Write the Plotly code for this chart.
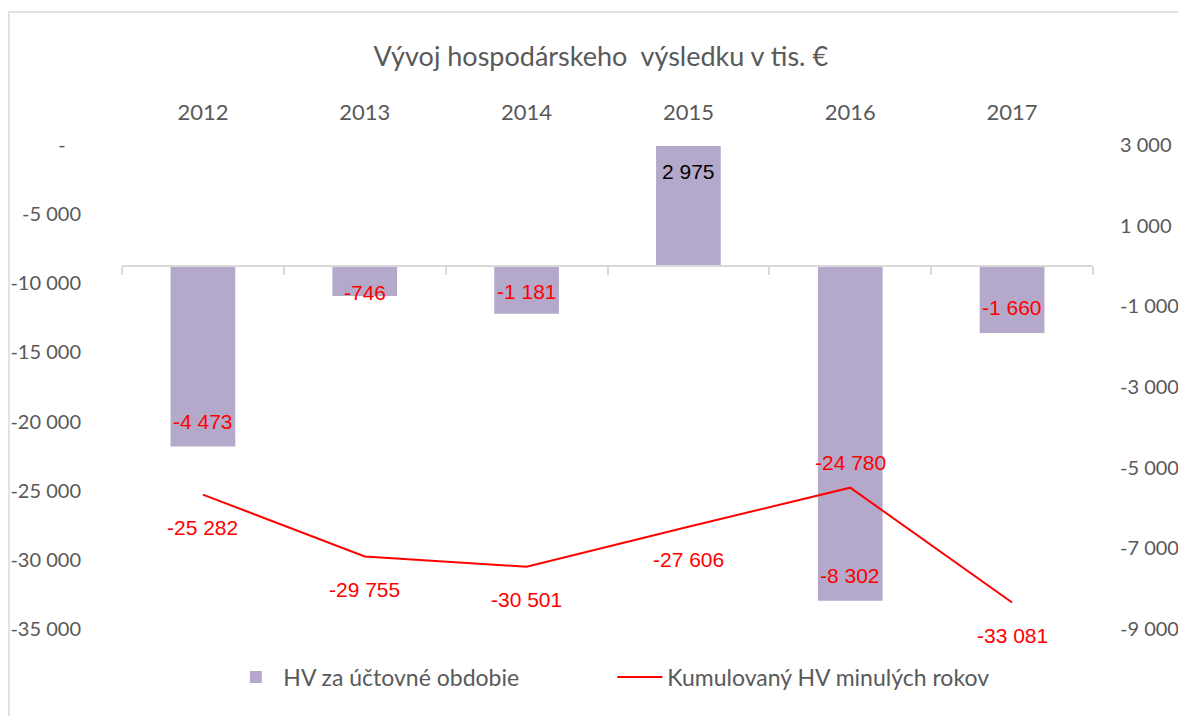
import plotly.graph_objects as go

# Economic result of the period and cumulative result of prior years (thousand EUR)
years = ["2012", "2013", "2014", "2015", "2016", "2017"]
hv_period = [-4473, -746, -1181, 2975, -8302, -1660]
hv_cumulative = [-25282, -29755, -30501, -27606, -24780, -33081]

left_tick_vals = [0, -5000, -10000, -15000, -20000, -25000, -30000, -35000]
left_tick_text = ["-\u00a0\u00a0\u00a0", "-5 000", "-10 000", "-15 000", "-20 000",
                  "-25 000", "-30 000", "-35 000"]
right_tick_vals = [3000, 1000, -1000, -3000, -5000, -7000, -9000]
right_tick_text = ["3 000", "1 000", "-1 000", "-3 000", "-5 000", "-7 000", "-9 000"]

BAR_RANGE = [-9000, 3000]
LINE_RANGE = [-35000, 0]

W, H = 1178, 716
ML, MR, MT, MB = 122, 85, 145, 87
PLOT_W = W - ML - MR
PLOT_H = H - MT - MB

BAR_COLOR = "#b5a9cb"
LINE_COLOR = "#ff0000"
GRAY_TEXT = "#595959"
AXIS_GRAY = "#d9d9d9"
TICK_FONT = dict(family="Lato", size=20, color=GRAY_TEXT)
LABEL_FONT_FAMILY = "Liberation Sans"


def fmt(v):
    return f"{v:,}".replace(",", " ")


fig = go.Figure()

fig.add_trace(go.Bar(
    x=years, y=hv_period, name="HV za účtovné obdobie",
    marker=dict(color=BAR_COLOR, line=dict(width=0)),
    width=0.4, xaxis="x", yaxis="y", hoverinfo="skip",
))

fig.add_trace(go.Scatter(
    x=years, y=hv_cumulative, name="Kumulovaný HV minulých rokov",
    mode="lines", line=dict(color=LINE_COLOR, width=2),
    xaxis="x2", yaxis="y2", hoverinfo="skip",
))

annotations = []

# bar value labels sit inside the bar end; negatives shown in red
# (annotation x on a category axis is the category's serial index)
px_per_unit_bar = PLOT_H / (BAR_RANGE[1] - BAR_RANGE[0])
for i, v in enumerate(hv_period):
    bar_px = abs(v) * px_per_unit_bar
    shift = min(25, bar_px - 26)
    annotations.append(dict(
        x=i, y=v, xref="x", yref="y", text=fmt(v), showarrow=False,
        yshift=shift if v < 0 else -shift,
        font=dict(family=LABEL_FONT_FAMILY, size=21,
                  color=LINE_COLOR if v < 0 else "#000000"),
    ))

# cumulative line labels, below the point except where noted
labels_above = {"2016"}
for i, (yr, v) in enumerate(zip(years, hv_cumulative)):
    annotations.append(dict(
        x=i, y=v, xref="x2", yref="y2", text=fmt(v), showarrow=False,
        yshift=25 if yr in labels_above else -33,
        font=dict(family=LABEL_FONT_FAMILY, size=21, color=LINE_COLOR),
    ))

# chart area frame
frame = dict(
    type="rect", xref="paper", yref="paper", layer="below",
    x0=(9 - ML) / PLOT_W, x1=(W + 20 - ML) / PLOT_W,
    y0=-(MB + 20) / PLOT_H, y1=(H - MB - 12) / PLOT_H,
    line=dict(color=AXIS_GRAY, width=1.5), fillcolor="rgba(0,0,0,0)",
)

zero_pos = (0 - BAR_RANGE[0]) / (BAR_RANGE[1] - BAR_RANGE[0])

fig.update_layout(
    width=W, height=H,
    margin=dict(l=ML, r=MR, t=MT, b=MB, autoexpand=False),
    paper_bgcolor="white", plot_bgcolor="white",
    showlegend=True,
    title=dict(
        text="Vývoj hospodárskeho  výsledku v tis. €",
        font=dict(family="Lato", size=27, color=GRAY_TEXT),
        x=0.51, xref="container", xanchor="center",
        y=1 - 57 / H, yref="container", yanchor="middle",
    ),
    xaxis=dict(
        type="category", range=[-0.5, len(years) - 0.5],
        anchor="free", position=zero_pos, side="bottom",
        showline=True, linecolor=AXIS_GRAY, linewidth=1.5,
        ticks="outside", tickson="boundaries", ticklen=8, tickcolor=AXIS_GRAY,
        tickwidth=1.5, showticklabels=False, showgrid=False, zeroline=False,
        automargin=False,
    ),
    xaxis2=dict(
        type="category", range=[-0.5, len(years) - 0.5],
        overlaying="x", anchor="y2", side="top",
        showline=False, ticks="", showgrid=False, zeroline=False,
        tickfont=dict(family="Lato", size=22, color=GRAY_TEXT),
        ticklabelstandoff=20, automargin=False,
    ),
    yaxis=dict(
        range=BAR_RANGE, side="right", anchor="x",
        tickvals=right_tick_vals, ticktext=right_tick_text,
        tickfont=TICK_FONT, showgrid=False, zeroline=False, showline=False,
        ticks="", ticklabelstandoff=26, automargin=False,
    ),
    yaxis2=dict(
        range=LINE_RANGE, side="left", overlaying="y", anchor="x2",
        tickvals=left_tick_vals, ticktext=left_tick_text,
        tickfont=TICK_FONT, showgrid=False, zeroline=False, showline=False,
        ticks="", ticklabelstandoff=40, automargin=False,
    ),
    legend=dict(
        orientation="h", x=0.505, xanchor="center",
        y=(0 - 48) / PLOT_H, yanchor="middle",
        font=dict(family="Lato", size=23, color=GRAY_TEXT),
        itemwidth=45, entrywidth=324, bgcolor="rgba(0,0,0,0)",
    ),
    annotations=annotations,
    shapes=[frame],
)

fig.write_html("out.html")
